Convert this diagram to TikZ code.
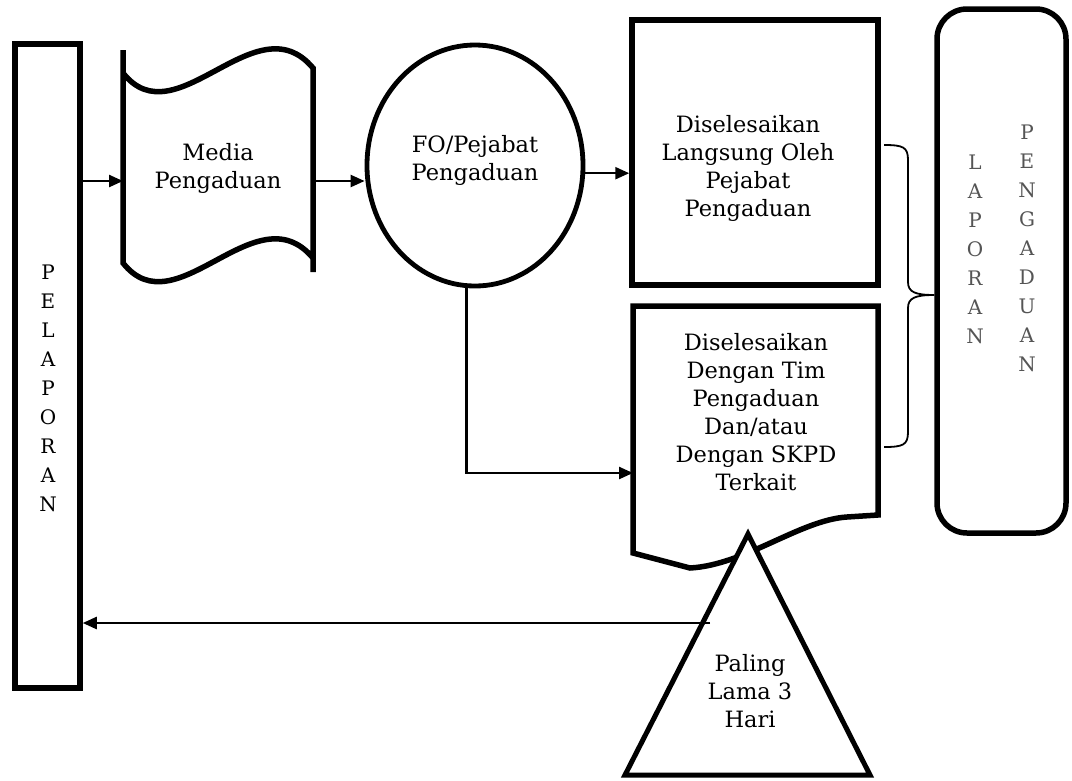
\documentclass[tikz,border=0pt]{standalone}
\usepackage{fontspec}
\setmainfont{DejaVu Serif}
\usepackage{tikz}
\usetikzlibrary{
  arrows.meta,     % 实心三角箭头
  calc,            % 坐标计算
  positioning,     % 节点相对定位
  shapes.geometric % 椭圆节点
}
\definecolor{lapgray}{HTML}{555555}

\tikzset{
  thickline/.style={line width=5.5pt, line join=miter},
  flowarrow/.style={line width=2.4pt, ->},
  braceline/.style={line width=1.8pt},
  boxtext/.style={font=\fontsize{22.5}{28}\selectfont, align=center, inner sep=0pt},
  vletter/.style={font=\fontsize{20}{29}\selectfont, align=center, inner sep=0pt},
}

\begin{document}
\begin{tikzpicture}[>={Triangle[length=14pt,width=12pt]}, x=1pt, y=-1pt]
  \useasboundingbox (0,0) rectangle (1072,780);

  % ===== 左侧：报告人 =====
  \node[draw, thickline, minimum width=65pt, minimum height=644pt] (pel) at (47.5,366) {};
  \node[vletter] (peltxt) at (48,388) {P\\E\\L\\A\\P\\O\\R\\A\\N};

  % ===== 投诉媒介（纸带形） =====
  \draw[thickline] (123,50) -- (123,73)
    .. controls (176,140) and (256,0) .. (313,68) coordinate (mtr)
    -- (313,272) -- (313,258)
    .. controls (256,190) and (176,330) .. (123,263) -- cycle;
  \coordinate (mediaL) at (123,181);
  \coordinate (mediaR) at (313,181);
  \node[boxtext] (media) at (218,168) {Media\\Pengaduan};

  % ===== FO / 投诉官员（椭圆） =====
  \node[draw, ellipse, line width=4.8pt, minimum width=216pt, minimum height=241pt] (fo) at (475,165.5) {};
  \node[boxtext] (fotxt) at (475,160) {FO/Pejabat\\Pengaduan};

  % ===== 直接处理（方框） =====
  \node[draw, thickline, minimum width=246pt, minimum height=265pt] (box1) at (755,152.5) {};
  \node[boxtext] (box1txt) at (748,168) {Diselesaikan\\Langsung Oleh\\Pejabat\\Pengaduan};

  % ===== 团队处理（文档形） =====
  \draw[thickline] (633,306) -- (878,306) -- (878,515) -- (847,517)
    .. controls (800,520) and (745,565) .. (690,568)
    -- (633,553) -- cycle;
  \coordinate (dokin) at (633,473);
  \node[boxtext] (dok) at (756,412) {Diselesaikan\\Dengan Tim\\Pengaduan\\Dan/atau\\Dengan SKPD\\Terkait};

  % ===== 投诉报告（圆角框） =====
  \node[draw, thickline, rounded corners=30pt, minimum width=129pt, minimum height=524pt] (lap) at (1001.5,271) {};
  \node[vletter, text=lapgray] (laptxt1) at (975,249) {L\\A\\P\\O\\R\\A\\N};
  \node[vletter, text=lapgray] (laptxt2) at (1027,248.5) {P\\E\\N\\G\\A\\D\\U\\A\\N};

  % ----- 大括号 -----
  \coordinate (brtop) at (884,145);
  \coordinate (brbot) at (884,447);
  \coordinate (brtip) at (lap.west |- 0,295);
  \draw[braceline] (brtop) .. controls (903,145) and (908,147) .. (908,160)
    -- (908,282) .. controls (908,292) and (915,295) .. (brtip)
    .. controls (915,295) and (908,298) .. (908,308)
    -- (908,432) .. controls (908,445) and (903,447) .. (brbot);

  % ===== 期限（三角形） =====
  \draw[line width=5pt, fill=white] (748,534) coordinate (apex)
    -- (870,775) -- (625,775) -- cycle;
  \node[boxtext] (hari) at (750,691) {Paling\\Lama 3\\Hari};
  \coordinate (triout) at (710,623);

  % ===== 连接箭头 =====
  \draw[flowarrow] (pel.east |- mediaL) -- (mediaL);
  \draw[flowarrow] (mediaR) -- (fo.west |- mediaR);
  \draw[flowarrow] (fo.-4) -- (box1.west |- fo.-4);
  \draw[flowarrow] (fo.-94.5) |- (dokin);
  \draw[flowarrow] (triout) -- (pel.east |- triout);
\end{tikzpicture}
\end{document}
